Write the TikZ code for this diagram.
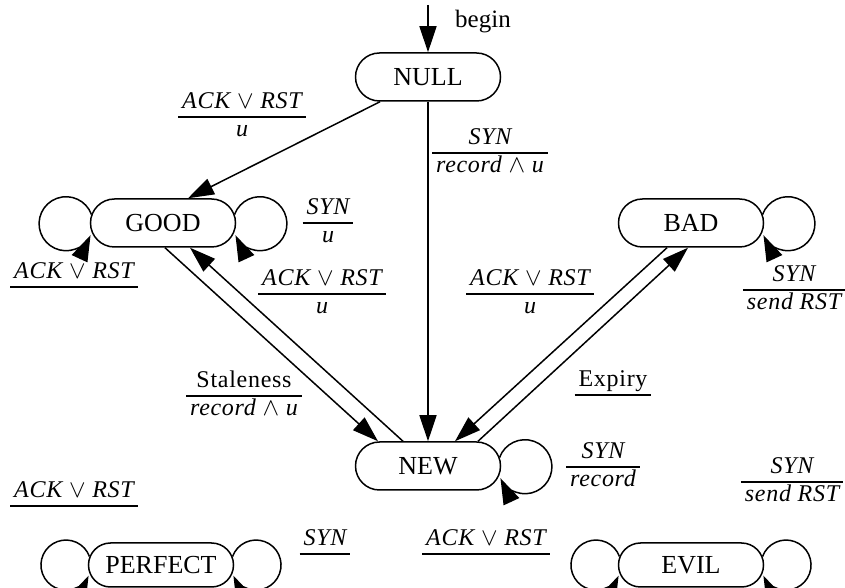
\documentclass[tikz,border=0pt]{standalone}
\usepackage{fontspec}
\setmainfont{Liberation Serif}
\usetikzlibrary{arrows.meta,shapes.misc,calc}
\setlength{\arrayrulewidth}{1.4pt}
\renewcommand{\arraystretch}{0.95}
\newcommand\frlab[2]{\begin{tabular}{@{\,}c@{\,}}#1\\\hline #2\end{tabular}}
\newcommand\ulab[1]{\begin{tabular}{@{\,}c@{\,}}#1\\\hline\end{tabular}}
% #1 node, #2 radius
\newcommand\myLloop[2]{\draw[arr] ($(#1.west)+(1.7,8.5)$) arc[start angle=20,end angle=335,radius=#2];}
\newcommand\myRloop[2]{\draw[arr] ($(#1.east)+(-1.7,8.5)$) arc[start angle=160,end angle=-155,radius=#2];}
\begin{document}
\begin{tikzpicture}[x=1pt,y=1pt,
  state/.style={rounded rectangle, draw, line width=1.5pt, minimum width=145pt, minimum height=48pt, inner sep=0pt, font=\fontsize{26}{30}\selectfont},
  arr/.style={line width=1.5pt, -{Triangle[length=26pt,width=17pt]}},
  lab/.style={font=\fontsize{24}{28}\selectfont\itshape\addfontfeatures{LetterSpace=3}, inner sep=0pt},
  uplab/.style={font=\fontsize{25}{29}\selectfont, inner sep=0pt}]
\useasboundingbox (0,0) rectangle (845,588);
\node[state] (null) at (428,511) {NULL};
\node[state] (good) at (163,365) {GOOD};
\node[state] (bad) at (691,365) {BAD};
\node[state] (new) at (428,122) {NEW};
\node[state, minimum height=44pt] (perfect) at (161,23) {PERFECT};
\node[state, minimum height=44pt] (evil) at (691,23) {EVIL};
\coordinate (start) at (428,583);
\draw[arr] (start) -- (null.north);
\node[uplab] (begin) at (483,566) {begin};
% edges
\draw[arr] ($(null.south)+(-48,0)$) -- ($(good.north)+(25,0)$);
\draw[arr] (null.south) -- (new.north);
\draw[arr] ($(good.south)+(2,0)$) -- ($(new.north)+(-50,0)$);
\draw[arr] ($(new.north)+(-25,0)$) -- ($(good.south)+(27,0)$);
\draw[arr] ($(bad.south)+(-24,0)$) -- ($(new.north)+(27,0)$);
\draw[arr] ($(new.north)+(50,0)$) -- ($(bad.south)+(-3,0)$);
% loops
\myLloop{good}{27}\myRloop{good}{27}
\myRloop{bad}{27}
\myRloop{new}{27}
\myLloop{perfect}{25}\myRloop{perfect}{25}
\myLloop{evil}{25}\myRloop{evil}{25}
% labels
\node[lab] (l1) at (242,471) {\frlab{ACK $\vee$ RST}{u}};
\node[lab] (l2) at (490,435) {\frlab{SYN}{record $\wedge$ u}};
\node[lab] (l3) at (328,365) {\frlab{SYN}{u}};
\node[lab, anchor=south] (l4) at (74,300) {\ulab{ACK $\vee$ RST}};
\node[lab] (l5) at (322,294) {\frlab{ACK $\vee$ RST}{u}};
\node[lab] (l6) at (530,294) {\frlab{ACK $\vee$ RST}{u}};
\node[lab] (l7) at (794,298) {\frlab{SYN}{send RST}};
\node[lab] (l8) at (244,192) {\frlab{\upshape Staleness}{record $\wedge$ u}};
\node[lab, anchor=south] (l9) at (613,192) {\ulab{\upshape Expiry}};
\node[lab] (l10) at (603,121) {\frlab{SYN}{record}};
\node[lab, anchor=south] (l11) at (74,81) {\ulab{ACK $\vee$ RST}};
\node[lab] (l12) at (792,106) {\frlab{SYN}{send RST}};
\node[lab, anchor=south] (l13) at (325,33) {\ulab{SYN}};
\node[lab, anchor=south] (l14) at (486,33) {\ulab{ACK $\vee$ RST}};
\end{tikzpicture}
\end{document}
